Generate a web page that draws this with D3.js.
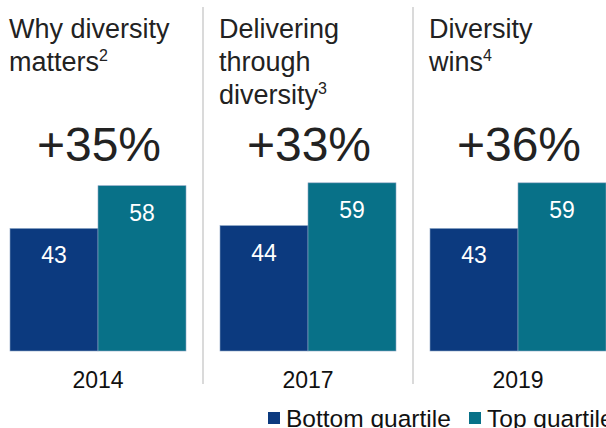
<!DOCTYPE html>
<html>
<head>
<meta charset="utf-8">
<script src="https://cdn.jsdelivr.net/npm/d3@7"></script>
<style>
  body { margin: 0; background: #fff; }
  svg { display: block; font-family: "Liberation Sans", Arial, sans-serif; }
</style>
</head>
<body>
<svg id="chart" width="606" height="428"></svg>
<script>
const years = ["2014", "2017", "2019"];
const titles = [["Why diversity", "matters"], ["Delivering", "through", "diversity"], ["Diversity", "wins"]];
const notes = ["2", "3", "4"];
const uplift = ["+35%", "+33%", "+36%"];
const bottomQuartile = [43, 44, 43];
const topQuartile = [58, 59, 59];
const seriesNames = ["Bottom quartile", "Top quartile"];
const colors = ["#0c3a7f", "#087188"];

const svg = d3.select("#chart");

const panel = d3.scaleBand().domain(years).range([0, 630]).paddingInner(0);
const bar = d3.scaleBand().domain(seriesNames).range([10, 186]);
const y = d3.scaleLinear().domain([0, 60]).range([351, 180]);

const groups = svg.selectAll("g.panel")
  .data(years)
  .enter()
  .append("g")
  .attr("class", "panel")
  .attr("transform", (d) => `translate(${panel(d)},0)`);

// dividers between panels
groups.filter((d, i) => i > 0)
  .append("line")
  .attr("x1", -7).attr("x2", -7)
  .attr("y1", 7).attr("y2", 384)
  .attr("stroke", "#b5b5b5")
  .attr("stroke-width", 1);

// titles with footnote marks
groups.each(function (d, i) {
  const t = d3.select(this).append("text")
    .attr("fill", "#222")
    .style("font-size", "27px");
  titles[i].forEach((line, j) => {
    t.append("tspan").attr("x", 9).attr("y", 38 + j * 33).text(line);
    if (j === titles[i].length - 1) {
      t.append("tspan").attr("dy", -10).style("font-size", "16px").text(notes[i]);
    }
  });
});

groups.append("text")
  .attr("x", 99)
  .attr("y", 161)
  .attr("text-anchor", "middle")
  .attr("fill", "#222")
  .style("font-size", "48px")
  .text((d, i) => uplift[i]);

const values = years.map((d, i) => [bottomQuartile[i], topQuartile[i]]);

groups.selectAll("rect")
  .data((d, i) => values[i].map((v, k) => ({ v, k })))
  .enter()
  .append("rect")
  .attr("x", (d) => bar(seriesNames[d.k]))
  .attr("y", (d) => y(d.v))
  .attr("width", bar.bandwidth())
  .attr("height", (d) => y(0) - y(d.v))
  .attr("fill", (d) => colors[d.k])
  .attr("stroke", "#8aa4c4")
  .attr("stroke-width", 0.6);

groups.selectAll("text.val")
  .data((d, i) => values[i].map((v, k) => ({ v, k })))
  .enter()
  .append("text")
  .attr("class", "val")
  .attr("x", (d) => bar(seriesNames[d.k]) + bar.bandwidth() / 2)
  .attr("y", (d) => y(d.v) + 35)
  .attr("text-anchor", "middle")
  .attr("fill", "#fff")
  .style("font-size", "23px")
  .text((d) => d.v);

groups.append("text")
  .attr("x", 98)
  .attr("y", 388)
  .attr("text-anchor", "middle")
  .attr("fill", "#111")
  .style("font-size", "23px")
  .text((d) => d);

// legend
const legendX = [268, 469];
const legend = svg.selectAll("g.legend")
  .data(seriesNames)
  .enter()
  .append("g")
  .attr("class", "legend")
  .attr("transform", (d, i) => `translate(${legendX[i]},0)`);
legend.append("rect")
  .attr("x", 0).attr("y", 412)
  .attr("width", 12).attr("height", 12)
  .attr("fill", (d, i) => colors[i]);
legend.append("text")
  .attr("x", 18).attr("y", 427)
  .attr("fill", "#111")
  .style("font-size", "24.5px")
  .text((d) => d);
</script>
</body>
</html>
